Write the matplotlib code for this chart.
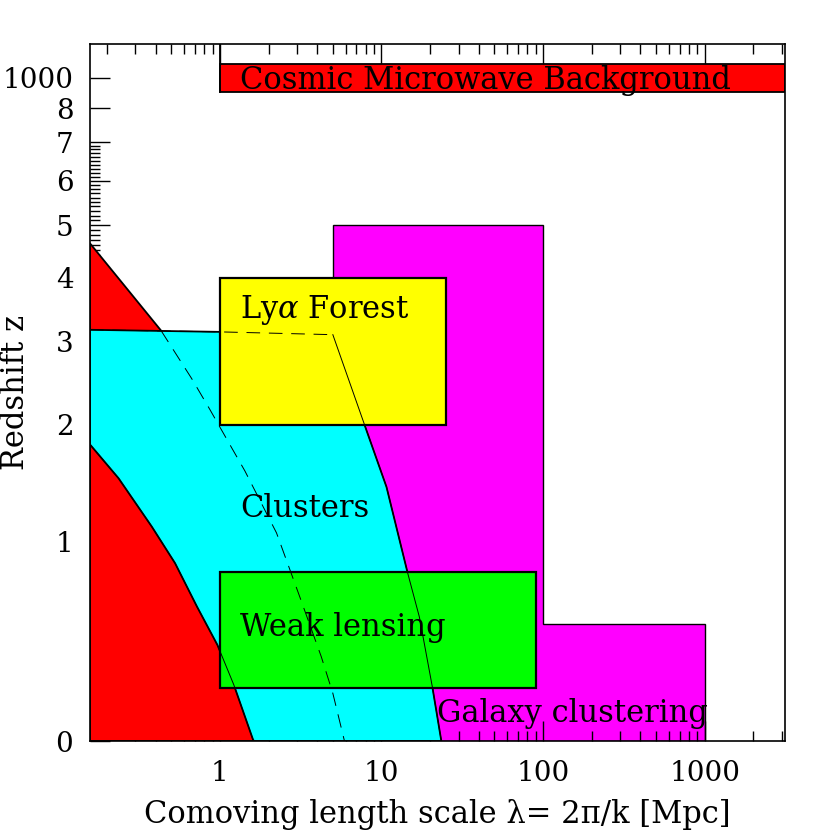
import numpy as np
import matplotlib.pyplot as plt

plt.rcParams['font.family'] = 'DejaVu Serif'
plt.rcParams['mathtext.fontset'] = 'dejavuserif'

# axis range: lambda = 2pi/k for k from 40 down to 0.002 h/Mpc
lam_min = 2 * np.pi / 40
lam_max = 2 * np.pi / 0.002
z_top = 10.25          # top of the plot (axis break above z=8)

# curves: (lambda [Mpc], z)
curveA_lam = [lam_min, 0.432, 0.669, 0.868, 1.203, 1.427, 2.24, 3.12, 4.24, 5.0, 5.9]
curveA_z = [4.63, 3.16, 2.52, 2.16, 1.748, 1.555, 1.06, 0.65, 0.34, 0.18, 0.0]

curveC_lam = [lam_min, 0.236, 0.379, 0.528, 0.721, 0.965, 1.22, 1.606, 1.63]
curveC_z = [1.80, 1.49, 1.105, 0.854, 0.595, 0.396, 0.215, 0.0035, 0.0]

cluster_top_lam = [lam_min, 1.0, 5.0]
cluster_top_z = [3.17, 3.14, 3.1]
curveB_lam = [5.0, 7.855, 10.74, 14.47, 17.16, 20.65, 23.46]
curveB_z = [3.1, 1.998, 1.416, 0.798, 0.538, 0.206, 0.0]

# galaxy clustering outline
gal_lam = [5, 5, 100, 100, 1000, 1000]
gal_z = [0, 5, 5, 0.5, 0.5, 0]

# boxes: lambda range, z range
lya_lam = [1, 25]
lya_z = [2, 4]
wl_lam = [1, 90]
wl_z = [0.2, 0.8]
cmb_lam = [1, lam_max]
cmb_z = [8.53, 9.50]     # band drawn at the "1000" tick

z_major = [0, 1, 2, 3, 4, 5, 6, 7, 8, 9]
z_major_labels = ['0', '1', '2', '3', '4', '5', '6', '7', '8', '1000']
x_major = [1, 10, 100, 1000]
x_major_labels = ['1', '10', '100', '1000']


def fwd(z):
    return np.log10(np.maximum(1 + np.asarray(z, dtype=float), 1e-6))


def inv(y):
    return 10 ** np.asarray(y, dtype=float) - 1


fig = plt.figure(figsize=(8.3, 8.3), dpi=100)
ax = fig.add_axes([90 / 830, 1 - 741 / 830, 695 / 830, 697 / 830])
ax.set_xscale('log')
ax.set_yscale('function', functions=(fwd, inv))
ax.set_xlim(lam_min, lam_max)
ax.set_ylim(0, z_top)

fs = 22          # text inside the plot
fs_tick = 20

# galaxy clustering
ax.fill(gal_lam, gal_z, facecolor='#ff00ff', edgecolor='black', lw=1.0, zorder=1)

# red nonlinear region (upper curve)
ax.fill([lam_min] + curveA_lam, [0] + curveA_z, facecolor='#ff0000',
        edgecolor='black', lw=1.3, zorder=2)

# clusters
cl_lam = [lam_min] + cluster_top_lam + curveB_lam[1:]
cl_z = [0] + cluster_top_z + curveB_z[1:]
ax.fill(cl_lam, cl_z, facecolor='#00ffff', edgecolor='black', lw=1.3, zorder=3)

# red region (lower curve)
ax.fill([lam_min] + curveC_lam, [0] + curveC_z, facecolor='#ff0000',
        edgecolor='black', lw=1.3, zorder=4)

# Lyman alpha forest and weak lensing boxes
ax.fill([lya_lam[0], lya_lam[1], lya_lam[1], lya_lam[0]],
        [lya_z[0], lya_z[0], lya_z[1], lya_z[1]],
        facecolor='#ffff00', edgecolor='black', lw=1.6, zorder=5)
ax.fill([wl_lam[0], wl_lam[1], wl_lam[1], wl_lam[0]],
        [wl_z[0], wl_z[0], wl_z[1], wl_z[1]],
        facecolor='#00ff00', edgecolor='black', lw=1.6, zorder=5)

# thin lines drawn over the boxes
ax.plot(curveB_lam, curveB_z, color='black', lw=0.7, zorder=6)
ax.plot(curveC_lam, curveC_z, color='black', lw=0.7, zorder=6)
ax.plot(curveA_lam[1:], curveA_z[1:], color='black', lw=0.7,
        dashes=(14, 9), zorder=6)
ax.plot(cluster_top_lam, cluster_top_z, color='black', lw=0.7,
        dashes=(14, 9), zorder=6)

# CMB band
ax.fill([cmb_lam[0], cmb_lam[1], cmb_lam[1], cmb_lam[0]],
        [cmb_z[0], cmb_z[0], cmb_z[1], cmb_z[1]],
        facecolor='#ff0000', edgecolor='black', lw=1.3, zorder=5)
ax.plot([1, 1], [cmb_z[0], z_top], color='black', lw=1.3, zorder=5)

ax.text(1.33, 8.62, 'Cosmic Microwave Background', fontsize=fs, zorder=7)
ax.text(1.33, 3.345, r'Ly$\alpha$ Forest', fontsize=fs, zorder=7)
ax.text(1.33, 1.18, 'Clusters', fontsize=fs, zorder=7)
ax.text(1.33, 0.44, 'Weak lensing', fontsize=fs, zorder=7)
ax.text(22.0, 0.069, 'Galaxy clustering', fontsize=fs, zorder=7)

# ticks
ax.set_xticks(x_major, labels=x_major_labels)
ax.set_yticks(z_major, labels=z_major_labels)
z_minor = [round(v, 1) for v in np.arange(0.1, 7.0, 0.1) if abs(v - round(v)) > 0.01]
ax.set_yticks(z_minor, minor=True)
ax.tick_params(axis='both', which='both', direction='in', labelsize=fs_tick,
               width=1.0, colors='black')
ax.tick_params(axis='both', which='major', length=14.4)
ax.tick_params(axis='both', which='minor', length=7.2)
ax.tick_params(axis='x', which='both', top=True, bottom=True, pad=14)
ax.tick_params(axis='y', which='both', left=True, right=False, pad=12)
for sp in ax.spines.values():
    sp.set_linewidth(1.2)
    sp.set_zorder(10)

ax.set_xlabel('Comoving length scale λ= 2π/k [Mpc]', fontsize=fs, labelpad=8)
ax.set_ylabel('Redshift z', fontsize=fs)
ax.yaxis.set_label_coords(-0.085, 0.5)

fig.savefig('out.png', dpi=100)
